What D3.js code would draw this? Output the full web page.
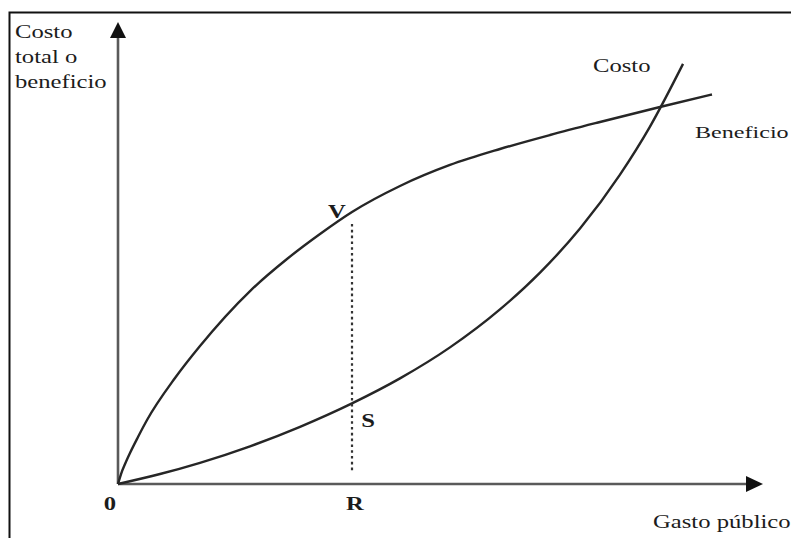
<!DOCTYPE html>
<html><head><meta charset="utf-8">
<script src="https://cdn.jsdelivr.net/npm/d3@7"></script>
<style>html,body{margin:0;padding:0;background:#fff;}svg{display:block;}</style>
</head><body>
<svg id="c" width="791" height="538"></svg>
<script>
// Data (abstract units: x 0..100 of "Gasto público", y 0..100 of "Costo total o beneficio")
const beneficioX = [0, 0.47, 1.09, 1.86, 3.10, 4.50, 8.84, 12.71, 20.47, 26.20, 31.32, 36.28, 43.72, 51.47, 59.22, 66.98, 74.73, 84.34, 92.09];
const beneficioY = [0, 2.16, 4.33, 6.71, 10.17, 13.85, 22.94, 29.87, 41.77, 48.70, 54.11, 58.87, 64.50, 69.05, 72.51, 75.54, 78.35, 81.71, 84.31];
const costoX = [0, 6.51, 12.71, 20.47, 28.22, 36.28, 43.72, 51.47, 59.22, 65.43, 71.63, 77.83, 82.48, 87.60];
const costoY = [0, 2.16, 4.59, 8.16, 12.38, 17.45, 22.86, 29.57, 37.79, 45.76, 55.28, 66.97, 77.36, 90.93];
const xTickLabels = ["0", "R"];
const xTickValues = [0, 36.28];
const pointLabels = ["V", "S"];
const pointValuesY = [58.87, 17.45];
const yAxisTitle = ["Costo", "total o", "beneficio"];
const xAxisTitle = "Gasto público";
const curveNames = ["Costo", "Beneficio"];

const svg = d3.select("#c");
const x = d3.scaleLinear().domain([0, 100]).range([118, 763]);
const y = d3.scaleLinear().domain([0, 100]).range([484, 22]);
const SX = 1.37;
const ink = "#1c1c1c";
const font = "'Liberation Serif', 'Times New Roman', serif";

// frame
svg.append("rect").attr("x", 9.5).attr("y", 12.5).attr("width", 800).attr("height", 600)
  .attr("fill", "none").attr("stroke", "#111").attr("stroke-width", 2);

// axes
const axisCol = "#5a5a5a";
svg.append("line").attr("x1", x(0)).attr("y1", y(0)).attr("x2", x(0)).attr("y2", y(100) + 12)
  .attr("stroke", axisCol).attr("stroke-width", 2.6);
svg.append("line").attr("x1", x(0)).attr("y1", y(0)).attr("x2", x(100) - 12).attr("y2", y(0))
  .attr("stroke", axisCol).attr("stroke-width", 2.6);
svg.append("path").attr("d", `M${x(0)},${y(100)} L${x(0)-8},${y(100)+16} L${x(0)+8},${y(100)+16} Z`).attr("fill", "#111");
svg.append("path").attr("d", `M${x(100)},${y(0)} L${x(100)-17},${y(0)-8} L${x(100)-17},${y(0)+8} Z`).attr("fill", "#111");

// curves
const line = d3.line().x(d => x(d[0])).y(d => y(d[1])).curve(d3.curveMonotoneX);
const ben = beneficioX.map((v, i) => [v, beneficioY[i]]);
const cos = costoX.map((v, i) => [v, costoY[i]]);
[ben, cos].forEach(data => {
  svg.append("path").attr("d", line(data)).attr("fill", "none")
    .attr("stroke", "#262626").attr("stroke-width", 2.4);
});

// dotted line at R
svg.append("line").attr("x1", x(xTickValues[1])).attr("x2", x(xTickValues[1]))
  .attr("y1", y(pointValuesY[0]) + 12).attr("y2", y(0) - 12)
  .attr("stroke", "#333").attr("stroke-width", 2.2).attr("stroke-dasharray", "2.6,3.2");

function txt(str, px, py, opts = {}) {
  svg.append("text").text(str)
    .attr("transform", `translate(${px},${py}) scale(${SX},1)`)
    .attr("font-family", font).attr("font-size", opts.size || 18)
    .attr("font-weight", opts.bold ? "bold" : "normal")
    .attr("text-anchor", opts.anchor || "start").attr("fill", ink);
}

// y axis title
yAxisTitle.forEach((t, i) => txt(t, 15, 38 + i * 25));
// x axis title
txt(xAxisTitle, 653, 528);
// tick labels
const tickOffsets = [-8, 3];
xTickLabels.forEach((t, i) => txt(t, x(xTickValues[i]) + tickOffsets[i], 510, {bold: true, anchor: "middle"}));
// point labels
txt(pointLabels[0], x(xTickValues[1]) - 15, 218, {bold: true, anchor: "middle"});
txt(pointLabels[1], x(xTickValues[1]) + 16, y(pointValuesY[1]) + 24, {bold: true, anchor: "middle"});
// curve names
txt(curveNames[0], 593, 72);
txt(curveNames[1], 695, 138, {size: 17.6});
</script>
</body></html>
